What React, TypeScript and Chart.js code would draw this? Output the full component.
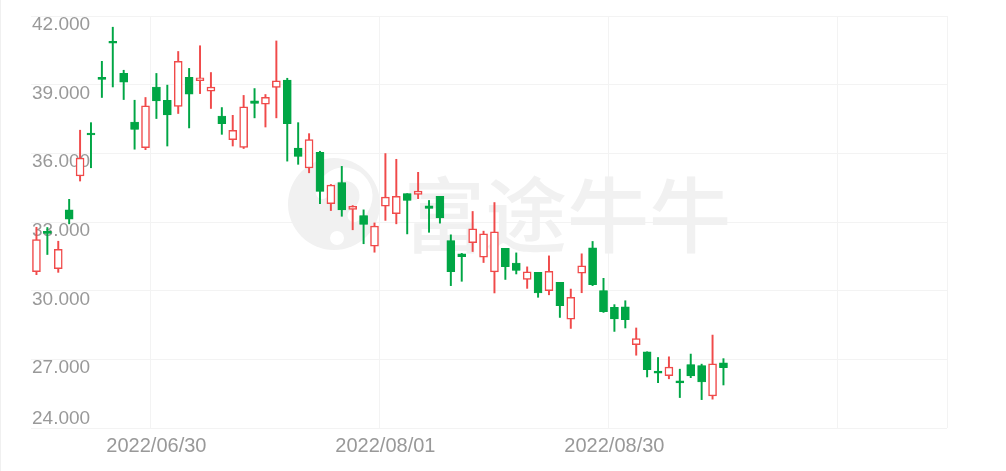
import React, { useEffect, useRef } from "react";
import { Chart, registerables } from "chart.js";

Chart.register(...registerables);

// Trading dates (64 with data) followed by 20 empty future slots
const dates: string[] = [
  "2022/06/14", "2022/06/15", "2022/06/16", "2022/06/17", "2022/06/21", "2022/06/22", "2022/06/23", "2022/06/24",
  "2022/06/27", "2022/06/28", "2022/06/29", "2022/06/30", "2022/07/01", "2022/07/05", "2022/07/06", "2022/07/07",
  "2022/07/08", "2022/07/11", "2022/07/12", "2022/07/13", "2022/07/14", "2022/07/15", "2022/07/18", "2022/07/19",
  "2022/07/20", "2022/07/21", "2022/07/22", "2022/07/25", "2022/07/26", "2022/07/27", "2022/07/28", "2022/07/29",
  "2022/08/01", "2022/08/02", "2022/08/03", "2022/08/04", "2022/08/05", "2022/08/08", "2022/08/09", "2022/08/10",
  "2022/08/11", "2022/08/12", "2022/08/15", "2022/08/16", "2022/08/17", "2022/08/18", "2022/08/19", "2022/08/22",
  "2022/08/23", "2022/08/24", "2022/08/25", "2022/08/26", "2022/08/29", "2022/08/30", "2022/08/31", "2022/09/01",
  "2022/09/02", "2022/09/06", "2022/09/07", "2022/09/08", "2022/09/09", "2022/09/12", "2022/09/13", "2022/09/14",
];
const futureDates: string[] = [
  "2022/09/15", "2022/09/16", "2022/09/19", "2022/09/20", "2022/09/21", "2022/09/22", "2022/09/23", "2022/09/26",
  "2022/09/27", "2022/09/28", "2022/09/29", "2022/09/30", "2022/10/03", "2022/10/04", "2022/10/05", "2022/10/06",
  "2022/10/07", "2022/10/10", "2022/10/11", "2022/10/12",
];

const opens: number[] = [
  30.83, 32.55, 30.96, 33.53, 35.01, 36.84, 39.27, 40.85, 39.49, 37.37, 36.25, 38.90, 38.32, 38.05, 39.32, 39.18,
  38.72, 37.63, 36.60, 36.26, 38.29, 38.15, 38.88, 39.20, 36.23, 35.36, 36.04, 33.80, 34.72, 33.55, 33.28, 31.94,
  33.69, 33.36, 34.24, 34.20, 33.71, 34.12, 32.19, 31.61, 32.10, 31.46, 30.82, 31.85, 31.21, 30.49, 30.80, 30.00,
  30.36, 28.76, 30.76, 31.87, 30.00, 29.27, 29.29, 27.64, 27.33, 26.48, 26.29, 26.06, 26.77, 26.73, 25.40, 26.85,
];
const highs: number[] = [
  32.77, 32.76, 32.16, 33.99, 37.01, 37.34, 40.02, 41.51, 39.63, 38.32, 38.44, 39.49, 38.98, 40.45, 39.71, 40.70,
  39.53, 38.00, 37.66, 38.53, 38.83, 38.57, 40.91, 39.28, 37.34, 36.86, 36.09, 34.64, 35.43, 33.72, 33.53, 32.96,
  35.99, 35.74, 34.24, 35.17, 33.94, 34.12, 32.44, 31.63, 33.46, 32.60, 33.85, 31.85, 31.65, 31.04, 30.80, 31.52,
  30.36, 30.07, 31.61, 32.15, 30.54, 29.39, 29.56, 28.37, 27.33, 27.08, 27.11, 26.57, 27.23, 26.79, 28.06, 27.03,
];
const lows: number[] = [
  30.70, 31.58, 30.80, 32.92, 34.79, 35.37, 38.44, 38.90, 38.35, 36.18, 36.16, 37.52, 36.32, 37.74, 37.11, 38.61,
  37.96, 36.83, 36.32, 36.21, 37.55, 37.15, 37.55, 35.66, 35.52, 35.15, 33.80, 33.50, 33.25, 32.66, 32.05, 31.68,
  33.07, 32.92, 32.48, 34.02, 32.55, 32.95, 30.22, 30.41, 31.71, 31.23, 29.90, 30.49, 30.73, 30.10, 29.71, 29.82,
  28.83, 28.35, 29.91, 30.22, 29.05, 28.22, 28.37, 27.18, 26.23, 25.98, 26.15, 25.33, 26.20, 25.24, 25.26, 25.88,
];
const closes: number[] = [
  32.23, 32.50, 31.81, 33.12, 35.79, 36.80, 39.23, 40.81, 39.11, 37.05, 38.07, 38.29, 37.68, 40.02, 38.58, 39.30,
  38.90, 37.30, 37.01, 38.03, 38.18, 38.45, 39.17, 37.30, 35.87, 36.60, 34.34, 34.61, 33.53, 33.69, 32.89, 32.82,
  34.09, 34.12, 33.94, 34.35, 33.59, 33.18, 30.83, 31.49, 32.70, 32.48, 32.57, 31.05, 30.88, 30.82, 29.90, 30.85,
  29.34, 29.71, 31.08, 30.26, 29.08, 28.77, 28.73, 27.91, 26.55, 26.40, 26.66, 25.97, 26.28, 26.01, 26.80, 26.64,
];

const xTickLabels: string[] = ["2022/06/30", "2022/08/01", "2022/08/30"];
const xGridDates: string[] = ["2022/06/30", "2022/08/01", "2022/08/30", "2022/09/29"];
const yTickValues: number[] = [42, 39, 36, 33, 30, 27, 24];
const yTickLabels: string[] = ["42.000", "39.000", "36.000", "33.000", "30.000", "27.000", "24.000"];
const watermarkText = "富途牛牛";

const UP = "#f04a4a";
const DOWN = "#00a645";
const GRID = "#f3f3f3";
const LABEL = "#999999";

export default function App() {
  const ref = useRef<HTMLCanvasElement | null>(null);

  useEffect(() => {
    document.body.style.margin = "0";
    const canvas = ref.current;
    if (!canvas) return;

    const categories = [...dates, ...futureDates];
    const isUp = opens.map((o, i) => closes[i] >= o);
    const bodies = opens.map((o, i) => [Math.min(o, closes[i]), Math.max(o, closes[i])]);
    const wicks = lows.map((l, i) => [l, highs[i]]);
    const gridIdx = xGridDates.map((d) => categories.indexOf(d));

    const watermark = {
      id: "watermark",
      beforeDatasetsDraw(chart: any) {
        const ctx = chart.ctx;
        ctx.save();
        // logo
        ctx.fillStyle = "#f1f1f1";
        ctx.beginPath();
        ctx.arc(333, 204, 46, 0, Math.PI * 2);
        ctx.fill();
        ctx.strokeStyle = "#ffffff";
        ctx.lineWidth = 13;
        ctx.lineCap = "round";
        ctx.beginPath();
        ctx.arc(343, 196, 22, Math.PI * 1.05, Math.PI * 2.35);
        ctx.stroke();
        ctx.fillStyle = "#ffffff";
        ctx.beginPath();
        ctx.arc(336, 238, 7, 0, Math.PI * 2);
        ctx.fill();
        // text
        ctx.fillStyle = "#f1f1f1";
        ctx.font = '500 82px "Noto Sans CJK SC"';
        ctx.textAlign = "left";
        ctx.textBaseline = "alphabetic";
        ctx.fillText(watermarkText, 402, 246);
        ctx.restore();
      },
    };

    const yLabels = {
      id: "yLabels",
      beforeDatasetsDraw(chart: any) {
        const ctx = chart.ctx;
        const y = chart.scales.y;
        const left = chart.chartArea.left;
        ctx.save();
        ctx.fillStyle = LABEL;
        ctx.font = '19px "Liberation Sans", Arial, sans-serif';
        ctx.textAlign = "left";
        ctx.textBaseline = "alphabetic";
        yTickValues.forEach((v, i) => {
          const py = y.getPixelForValue(v);
          const last = i === yTickValues.length - 1;
          ctx.fillText(yTickLabels[i], left + 1, last ? py - 4 : py + 14);
        });
        ctx.restore();
      },
    };

    const chart = new Chart(canvas, {
      type: "bar",
      data: {
        labels: categories,
        datasets: [
          {
            label: "body",
            data: bodies as any,
            order: 0,
            grouped: false,
            barThickness: 8,
            minBarLength: 2,
            borderSkipped: false,
            backgroundColor: isUp.map((u) => (u ? "#ffffff" : DOWN)),
            borderColor: isUp.map((u) => (u ? UP : DOWN)),
            borderWidth: isUp.map((u) => (u ? 1.5 : 0.5)) as any,
          },
          {
            label: "wick",
            data: wicks as any,
            order: 1,
            grouped: false,
            barThickness: 1.3,
            borderWidth: 0,
            backgroundColor: isUp.map((u) => (u ? UP : DOWN)),
          },
        ],
      },
      options: {
        animation: false,
        responsive: true,
        maintainAspectRatio: false,
        layout: { padding: { left: 30, right: 59, top: 16, bottom: 7 } },
        plugins: {
          legend: { display: false },
          tooltip: { enabled: false },
          title: { display: false },
        },
        scales: {
          x: {
            type: "category",
            offset: true,
            border: { display: false },
            grid: {
              offset: true,
              drawTicks: false,
              lineWidth: 1,
              color: (ctx: any) =>
                ctx.index === undefined || gridIdx.includes(ctx.index) ? GRID : "rgba(0,0,0,0)",
            },
            ticks: {
              autoSkip: false,
              maxRotation: 0,
              minRotation: 0,
              padding: 6,
              color: LABEL,
              font: { family: '"Liberation Sans", Arial, sans-serif', size: 20 },
              callback: (_v: any, i: number) =>
                xTickLabels.includes(categories[i]) ? categories[i] : "",
            },
          },
          y: {
            min: 24,
            max: 42,
            border: { display: false },
            grid: { color: GRID, drawTicks: false, lineWidth: 1 },
            ticks: { display: false, stepSize: 3 },
          },
        },
      },
      plugins: [watermark, yLabels],
    });

    return () => chart.destroy();
  }, []);

  return (
    <div
      style={{
        width: 1006,
        height: 471,
        boxSizing: "border-box",
        borderLeft: "1px solid #f0f0f0",
        position: "relative",
        background: "#ffffff",
      }}
    >
      <canvas ref={ref} />
    </div>
  );
}
